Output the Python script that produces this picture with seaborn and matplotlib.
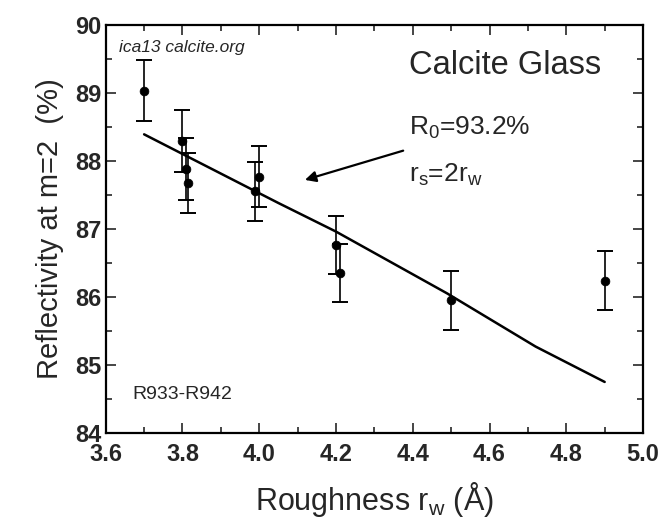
import numpy as np
import pandas as pd
import matplotlib
matplotlib.use("Agg")
import matplotlib.pyplot as plt
import seaborn as sns

# donnees
rw = [3.70, 3.80, 3.81, 3.815, 3.99, 4.00, 4.20, 4.21, 4.50, 4.90]
refl = [89.03, 88.29, 87.88, 87.67, 87.55, 87.77, 86.76, 86.35, 85.95, 86.24]
err = [0.45, 0.46, 0.45, 0.44, 0.44, 0.45, 0.43, 0.43, 0.43, 0.43]

# courbe du modele (R0=93.2%, rs=2rw)
fit_rw = [3.70, 4.05, 4.20, 4.49, 4.72, 4.90]
fit_refl = [88.39, 87.38, 86.96, 86.05, 85.27, 84.75]

df = pd.DataFrame({"rw": rw, "R": refl, "err": err})
fit = pd.DataFrame({"rw": fit_rw, "R": fit_refl})

sns.set_style("ticks")
plt.rcParams["font.family"] = ["Liberation Sans", "DejaVu Sans"]
plt.rcParams["mathtext.fontset"] = "custom"
plt.rcParams["mathtext.rm"] = "Liberation Sans"
plt.rcParams["mathtext.it"] = "Liberation Sans"

fig = plt.figure(figsize=(6.65, 5.28), dpi=100)
ax = fig.add_axes([0.159, 0.18, 0.808, 0.773])

sns.lineplot(data=fit, x="rw", y="R", color="black", linewidth=1.8, ax=ax)
ax.errorbar(df["rw"], df["R"], yerr=df["err"], fmt="none", ecolor="black",
            elinewidth=1.2, capsize=6, capthick=1.4)
sns.scatterplot(data=df, x="rw", y="R", color="black", s=40, edgecolor="black", ax=ax, zorder=5)

ax.set_xlim(3.6, 5.0)
ax.set_ylim(84, 90)
ax.set_xticks(np.arange(3.6, 5.01, 0.2))
ax.set_xticks(np.arange(3.6, 5.01, 0.1), minor=True)
ax.set_yticks(np.arange(84, 90.1, 1))
ax.set_yticks(np.arange(84, 90.1, 0.5), minor=True)
ax.set_xticklabels(["%.1f" % v for v in np.arange(3.6, 5.01, 0.2)])
ax.tick_params(which="both", direction="in", top=True, right=True, width=1.2)
ax.tick_params(which="major", length=7, labelsize=17)
ax.tick_params(axis="x", which="major", pad=7)
ax.tick_params(axis="y", which="major", pad=3)
ax.tick_params(which="minor", length=4)
for lab in ax.get_xticklabels() + ax.get_yticklabels():
    lab.set_fontweight("bold")
for sp in ax.spines.values():
    sp.set_linewidth(1.6)
    sp.set_color("black")

ax.set_xlabel("Roughness r$_\\mathrm{w}$ (Å)", fontsize=22, labelpad=10)
ax.set_ylabel("Reflectivity at m=2  (%)", fontsize=21, labelpad=8)

ax.text(3.634, 89.67, "ica13 calcite.org", fontsize=12.5, style="italic", va="center")
ax.text(4.39, 89.40, "Calcite Glass", fontsize=23.5, va="center")
ax.text(4.39, 88.48, "R$_\\mathrm{0}$=93.2%", fontsize=19, va="center")
ax.text(4.39, 87.80, "r$_\\mathrm{s}$=2r$_\\mathrm{w}$", fontsize=19, va="center")
ax.text(3.67, 84.56, "R933-R942", fontsize=14, va="center")
ax.annotate("", xy=(4.119, 87.72), xytext=(4.375, 88.15),
            arrowprops=dict(arrowstyle="-|>", color="black", lw=1.6,
                            mutation_scale=16, shrinkA=0, shrinkB=0))

fig.savefig("out.png", dpi=100)
